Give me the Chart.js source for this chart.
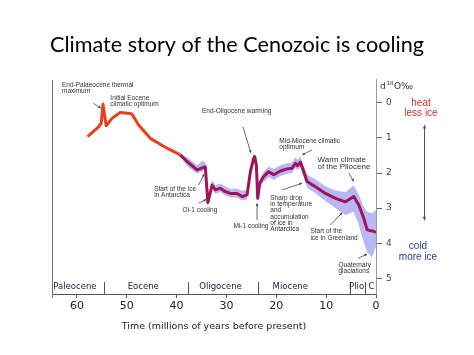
<!DOCTYPE html>
<html><head><meta charset="utf-8">
<script src="https://cdn.jsdelivr.net/npm/chart.js@4"></script>
<style>html,body{margin:0;padding:0;background:#fff}#wrap{width:474px;height:355px;position:relative}</style>
</head><body><div id="wrap"><canvas id="c"></canvas></div>
<script>
// Early Cenozoic (red) segment: age (Ma) and d18O (per mil)
const ageRed = [57.87,55.66,55.12,54.78,54.12,52.97,51.31,49.30,48.96,47.63,45.28,41.93,39.26];
const d18oRed = [0.96,0.68,0.58,0.04,0.65,0.44,0.27,0.30,0.32,0.63,1.01,1.29,1.48];
// Later (purple) segment
const agePurple = [39.26,37.91,35.90,34.24,33.73,32.89,32.23,31.22,30.22,29.22,27.87,26.87,25.86,25.20,24.54,24.34,24.00,23.73,23.33,22.53,21.53,20.52,19.18,17.83,16.83,16.16,15.70,15.16,13.82,12.15,10.14,8.13,6.12,4.46,3.45,2.45,1.77,0.76,0];
const d18oPurple = [1.48,1.67,1.91,1.82,2.84,2.34,2.48,2.43,2.53,2.58,2.58,2.67,2.62,1.96,1.58,1.53,1.77,2.72,2.29,2.10,1.96,2.05,1.94,1.88,1.86,1.72,1.79,1.69,2.24,2.39,2.58,2.72,2.82,2.67,2.91,3.29,3.62,3.65,3.69];
// Spread band
const bandAge = [39.5,37.9,35.9,34.8,34.2,33.8,32.9,32.2,31.2,30.2,29.2,27.9,26.9,25.9,25.2,24.5,24.0,23.7,23.3,22.5,21.5,20.5,19.2,17.8,16.8,16.2,15.7,15.2,13.8,12.1,10.1,8.1,6.1,4.5,3.5,2.5,1.8,0.8,0];
const bandHi = [1.46,1.55,1.78,1.65,1.70,2.70,2.20,2.35,2.30,2.38,2.45,2.45,2.50,2.48,1.85,1.42,1.65,2.55,2.15,1.95,1.82,1.88,1.78,1.72,1.70,1.55,1.62,1.52,2.05,2.18,2.38,2.50,2.55,2.35,2.60,2.95,3.10,3.15,3.05];
const bandLo = [1.50,1.80,2.02,1.95,1.95,2.95,2.45,2.60,2.55,2.65,2.70,2.70,2.78,2.75,2.10,1.68,1.90,2.85,2.42,2.25,2.12,2.20,2.08,2.02,2.00,1.85,1.92,1.82,2.42,2.58,2.80,3.00,3.20,3.10,3.45,3.95,4.25,4.40,4.10];
// Ticks
const xTicks = [60,50,40,30,20,10,0];
const yTicks = [0,1,2,3,4,5];
// Epochs
const epochNames = ['Paleocene','Eocene','Oligocene','Miocene','Plio','C'];
const epochCenters = [60.4,46.7,31.2,17.2,3.9,0.9];
const epochBounds = [54.5,37.65,23.6,5.12,2.11];

const notes = [
  {lines:['End-Palaeocene thermal','maximum'], age:63.0, d:-0.51, size:6.5, arrow:[56.7,0.01,55.2,0.15]},
  {lines:['Initial Eocene','climatic optimum'], age:53.3, d:-0.13, size:6.5},
  {lines:['End-Oligocene warming'], age:34.9, d:0.25, size:6.5, arrow:[26.7,0.68,25.1,1.43]},
  {lines:['Mid-Miocene climatic','optimum'], age:19.4, d:1.08, size:6.5, arrow:[12.8,1.34,14.8,1.48]},
  {lines:['Warm climate','of the Pliocene'], age:11.75, d:1.61, size:8, arrow:[5.47,2.0,4.46,2.24]},
  {lines:['Start of the ice','in Antarctica'], age:44.5, d:2.46, size:6.5, arrow:[35.6,2.34,34.46,2.03]},
  {lines:['Oi-1 cooling'], age:38.8, d:3.07, size:6.5, arrow:[35.6,2.86,34.06,2.75]},
  {lines:['Mi-1 cooling'], age:28.6, d:3.51, size:6.5, arrow:[23.87,3.34,23.87,2.86]},
  {lines:['Sharp drop','in temperature','and','accumulation','of ice in','Antarctica'], age:21.2, d:2.72, size:6.5, arrow:[18.85,2.48,14.83,2.29]},
  {lines:['Start of the','ice in Greenland'], age:13.16, d:3.67, size:6.5, arrow:[9.14,3.48,6.79,3.13]},
  {lines:['Quaternary','glaciations'], age:7.53, d:4.62, size:6.5, arrow:[3.58,4.43,1.77,4.31]}
];

function arrowTo(ctx,x1,y1,x2,y2,h){
  ctx.beginPath(); ctx.moveTo(x1,y1); ctx.lineTo(x2,y2); ctx.stroke();
  const a=Math.atan2(y2-y1,x2-x1);
  ctx.beginPath(); ctx.moveTo(x2,y2);
  ctx.lineTo(x2-h*Math.cos(a-0.45), y2-h*Math.sin(a-0.45));
  ctx.lineTo(x2-h*Math.cos(a+0.45), y2-h*Math.sin(a+0.45));
  ctx.closePath(); ctx.fill();
}

const decor = {
  id:'decor',
  afterDraw(chart){
    const {ctx, chartArea:ca, scales:{x,y}} = chart;
    ctx.save();
    // left frame line
    ctx.strokeStyle='#777'; ctx.lineWidth=1;
    ctx.beginPath(); ctx.moveTo(ca.left+0.5, ca.top); ctx.lineTo(ca.left+0.5, ca.bottom+4); ctx.stroke();
    // epoch separators and labels
    ctx.strokeStyle='#555';
    epochBounds.forEach(b=>{ const px=Math.round(x.getPixelForValue(b))+0.5;
      ctx.beginPath(); ctx.moveTo(px, ca.bottom-12); ctx.lineTo(px, ca.bottom); ctx.stroke(); });
    ctx.fillStyle='#1c1c3c'; ctx.font='8.5px "DejaVu Sans"'; ctx.textAlign='center'; ctx.textBaseline='middle';
    epochNames.forEach((n,i)=> ctx.fillText(n, x.getPixelForValue(epochCenters[i]), ca.bottom-7));
    // annotations
    ctx.textAlign='left'; ctx.fillStyle='#333'; ctx.strokeStyle='#444'; ctx.lineWidth=0.8;
    notes.forEach(n=>{
      ctx.font = n.size+'px "Liberation Sans"';
      const px=x.getPixelForValue(n.age), py=y.getPixelForValue(n.d);
      const gap = n.size*0.95;
      n.lines.forEach((t,i)=> ctx.fillText(t, px, py+i*gap));
      if(n.arrow){ const a=n.arrow; ctx.fillStyle='#444';
        arrowTo(ctx, x.getPixelForValue(a[0]), y.getPixelForValue(a[1]), x.getPixelForValue(a[2]), y.getPixelForValue(a[3]), 3);
        ctx.fillStyle='#333'; }
    });
    // right side
    const r = ca.right;
    ctx.fillStyle='#333'; ctx.textAlign='left';
    ctx.font='9px "DejaVu Sans"'; ctx.fillText('d', r+4, 87);
    ctx.font='5.5px "DejaVu Sans"'; ctx.fillText('18', r+10.5, 84);
    ctx.font='9px "DejaVu Sans"'; ctx.fillText('O‰', r+18, 87);
    ctx.textAlign='center';
    ctx.font='10px "Liberation Sans"'; ctx.fillStyle='#c8302a';
    ctx.fillText('heat', r+45, y.getPixelForValue(0));
    ctx.fillText('less ice', r+45, y.getPixelForValue(0.29));
    ctx.fillStyle='#2a3a9a';
    ctx.fillText('cold', r+42, y.getPixelForValue(4.1));
    ctx.fillText('more ice', r+42, y.getPixelForValue(4.4));
    ctx.strokeStyle='#555'; ctx.fillStyle='#555'; ctx.lineWidth=1;
    const ax=r+48.5, ay1=y.getPixelForValue(0.63), ay2=y.getPixelForValue(3.35);
    arrowTo(ctx, ax, (ay1+ay2)/2, ax, ay1, 4);
    arrowTo(ctx, ax, (ay1+ay2)/2, ax, ay2, 4);
    ctx.restore();
  }
};

new Chart(document.getElementById('c'), {
  type:'line',
  data:{datasets:[
    {data: agePurple.map((a,i)=>({x:a,y:d18oPurple[i]})), yAxisID:'y', borderColor:'#a0145a', borderWidth:3, pointRadius:0, fill:false, order:0, borderJoinStyle:'round'},
    {data: ageRed.map((a,i)=>({x:a,y:d18oRed[i]})), yAxisID:'y', borderColor:'#e8401c', borderWidth:3, pointRadius:0, fill:false, order:1, borderJoinStyle:'round'},
    {data: bandAge.map((a,i)=>({x:a,y:bandHi[i]})), yAxisID:'y', borderWidth:0, borderColor:'rgba(0,0,0,0)', backgroundColor:'#b8b8f6', pointRadius:0, fill:'+1', order:3},
    {data: bandAge.map((a,i)=>({x:a,y:bandLo[i]})), yAxisID:'y', borderWidth:0, borderColor:'rgba(0,0,0,0)', pointRadius:0, fill:false, order:4}
  ]},
  options:{
    responsive:true, maintainAspectRatio:false, animation:false,
    layout:{padding:{left:0,right:0,top:0,bottom:0}},
    plugins:{legend:{display:false}, tooltip:{enabled:false},
      title:{display:true, text:'Climate story of the Cenozoic is cooling', color:'#000',
        font:{family:'Lato', size:21.6, weight:'normal'}, padding:{top:32,bottom:22}}},
    scales:{
      x:{type:'linear', min:0, max:65, reverse:true,
        afterBuildTicks:s=>{s.ticks=xTicks.map(v=>({value:v}));},
        afterFit:s=>{s.height=61;},
        ticks:{font:{family:'DejaVu Sans',size:11}, color:'#222', padding:2, maxRotation:0, autoSkip:false},
        grid:{drawOnChartArea:false, drawTicks:true, tickLength:4, color:'#555'},
        border:{display:true, color:'#555', width:1},
        title:{display:true, text:'Time (millions of years before present)', color:'#222',
          font:{family:'DejaVu Sans',size:9.5}, padding:{top:0,bottom:22.3}}},
      yl:{type:'linear', position:'left', display:true, min:0, max:1,
        ticks:{display:false}, grid:{display:false, drawTicks:false}, border:{display:false},
        afterFit:s=>{s.width=52;}},
      y:{type:'linear', position:'right', reverse:true, min:-0.656, max:5.448,
        afterBuildTicks:s=>{s.ticks=yTicks.map(v=>({value:v}));},
        afterFit:s=>{s.width=98;},
        ticks:{font:{family:'DejaVu Sans',size:9}, color:'#444', padding:4},
        grid:{drawOnChartArea:false, tickLength:6, color:'#666'},
        border:{display:true, color:'#999', width:1}}
    }
  },
  plugins:[decor]
});
</script></body></html>
